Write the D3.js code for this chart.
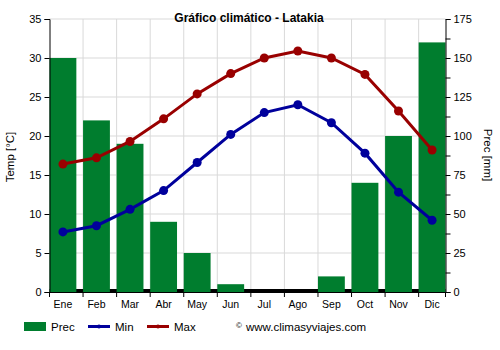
<!DOCTYPE html>
<html><head><meta charset="utf-8">
<script src="https://cdn.jsdelivr.net/npm/d3@7/dist/d3.min.js"></script>
<style>body{margin:0;background:#fff}svg{font-family:"Liberation Sans",Arial,sans-serif}</style>
</head><body><svg id="c" width="500" height="350"></svg>
<script>
const months = ["Ene","Feb","Mar","Abr","May","Jun","Jul","Ago","Sep","Oct","Nov","Dic"];
const prec = [150,110,95,45,25,5,0,0,10,70,100,160];
const tmin = [7.7,8.5,10.6,13.0,16.6,20.2,23.0,24.0,21.7,17.8,12.8,9.2];
const tmax = [16.4,17.2,19.3,22.2,25.4,28.0,30.0,30.9,30.0,27.9,23.2,18.2];
const tempTicks = [0,5,10,15,20,25,30,35];
const precTicks = [0,25,50,75,100,125,150,175];
const precMinor = [12.5,37.5,62.5,87.5,112.5,137.5,162.5];

const svg = d3.select("#c");
const L = 49.5, R = 445.5, T = 19, B = 292;
const x = d3.scaleBand().domain(months).range([L, R]).paddingInner(0.2).paddingOuter(0).align(0);
const yT = d3.scaleLinear().domain([0,35]).range([B, T]);
const yP = d3.scaleLinear().domain([0,175]).range([B, T]);
const cx = m => x(m) + x.bandwidth()/2;
const green = "#007d2e", blue = "#00009c", red = "#990000", grid = "#d9d9d9";

// grid
svg.append("g").selectAll("line").data(tempTicks).join("line")
  .attr("x1", L).attr("x2", R).attr("y1", d => yT(d)).attr("y2", d => yT(d))
  .attr("stroke", grid).attr("stroke-width", 1);
svg.append("g").selectAll("line").data(months.slice(1)).join("line")
  .attr("x1", d => x(d)).attr("x2", d => x(d)).attr("y1", T).attr("y2", B)
  .attr("stroke", grid).attr("stroke-width", 1);

// baseline black band
svg.append("rect").attr("x", L).attr("y", B-3).attr("width", R-L).attr("height", 3).attr("fill", "#000");

// bars
svg.append("g").selectAll("rect").data(prec).join("rect")
  .attr("x", (d,i) => x(months[i])).attr("width", x.bandwidth())
  .attr("y", d => yP(d)).attr("height", d => B - yP(d)).attr("fill", green);

// lines
const line = arr => d3.line().x((d,i) => cx(months[i])).y(d => yT(d))(arr);
[[tmax, red],[tmin, blue]].forEach(([arr, col]) => {
  svg.append("path").attr("d", line(arr)).attr("fill","none").attr("stroke", col).attr("stroke-width", 3);
  svg.append("g").selectAll("circle").data(arr).join("circle")
    .attr("cx", (d,i) => cx(months[i])).attr("cy", d => yT(d)).attr("r", 4.5).attr("fill", col);
});

// axes
const gl = svg.append("g").attr("transform", `translate(${L},0)`)
  .call(d3.axisLeft(yT).tickValues(tempTicks).tickSize(5).tickPadding(3));
const gr = svg.append("g").attr("transform", `translate(${R},0)`)
  .call(d3.axisRight(yP).tickValues(precTicks).tickSize(5).tickPadding(3));
svg.append("g").attr("transform", `translate(${R},0)`)
  .call(d3.axisRight(yP).tickValues(precMinor).tickSize(5).tickFormat(""))
  .select(".domain").remove();
const gb = svg.append("g").attr("transform", `translate(0,${B})`)
  .call(d3.axisBottom(x).tickSize(0).tickPadding(9));
gb.select(".domain").attr("d", `M${L},0.5H${R}`);
gb.selectAll(".tick text").attr("dx", -(x.step()-x.bandwidth())/2 * 0);
// bottom tick marks at band starts
svg.append("g").selectAll("line").data(months.concat(["end"])).join("line")
  .attr("x1", (d,i) => i < 12 ? x(d) : R).attr("x2", (d,i) => i < 12 ? x(d) : R)
  .attr("y1", B).attr("y2", B+5).attr("stroke", "#000");
[gl, gr, gb].forEach(g => {
  g.selectAll("text").attr("font-size", 11).attr("fill", "#000").attr("font-family", "Liberation Sans, Arial, sans-serif");
  g.selectAll("line,path").attr("stroke", "#000");
});
gb.selectAll("text").attr("font-size", 10.5);
// shift month labels to bar centers
gb.selectAll(".tick").attr("transform", d => `translate(${cx(d)},0)`);

// titles
svg.append("text").attr("x", 249).attr("y", 22).attr("text-anchor","middle")
  .attr("font-size", 12).attr("font-weight","bold").text("Gráfico climático - Latakia");
svg.append("text").attr("transform","translate(14,157) rotate(-90)").attr("text-anchor","middle")
  .attr("font-size", 11.5).text("Temp [°C]");
svg.append("text").attr("transform","translate(484,155) rotate(90)").attr("text-anchor","middle")
  .attr("font-size", 11.5).text("Prec [mm]");

// legend
const lg = svg.append("g").attr("font-size", 11.5);
lg.append("rect").attr("x",24).attr("y",322).attr("width",22).attr("height",9).attr("fill",green);
lg.append("text").attr("x",51).attr("y",331).text("Prec");
[[88,"Min",blue],[147,"Max",red]].forEach(([lx,t,c]) => {
  lg.append("line").attr("x1",lx).attr("x2",lx+22).attr("y1",326.5).attr("y2",326.5).attr("stroke",c).attr("stroke-width",3);
  lg.append("circle").attr("cx",lx+11).attr("cy",326.5).attr("r",2).attr("fill",c);
  lg.append("text").attr("x",lx+27).attr("y",331).text(t);
});
lg.append("text").attr("x",236).attr("y",328).attr("font-size",8).text("©");
lg.append("text").attr("x",246).attr("y",331).text("www.climasyviajes.com");
</script></body></html>
